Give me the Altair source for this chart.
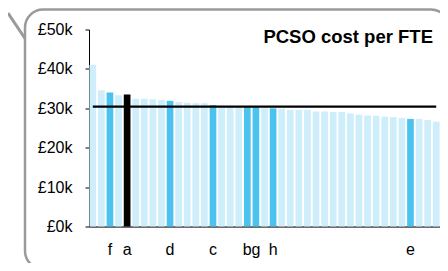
import altair as alt
import pandas as pd

labels = ["", "", "f", "", "a", "", "", "", "", "d",
          "", "", "", "", "c", "", "", "", "b", "g",
          "", "h", "", "", "", "", "", "", "", "",
          "", "", "", "", "", "", "", "e", "", "", ""]
cost_k = [41.0, 34.6, 34.0, 33.3, 33.5, 32.4, 32.4, 32.3, 32.1, 31.9,
          31.6, 31.4, 31.3, 31.3, 30.8, 30.6, 30.5, 30.5, 30.4, 30.3,
          30.0, 30.0, 29.9, 29.6, 29.6, 29.6, 29.2, 29.2, 29.1, 29.1,
          28.7, 28.4, 28.2, 28.1, 27.9, 27.8, 27.5, 27.3, 27.3, 27.0, 26.6]
selected = "a"
average_k = 30.4
y_ticks = [0, 10000, 20000, 30000, 40000, 50000]
title_text = "PCSO cost per FTE"

ids = [lab if lab else f"n{i + 1}" for i, lab in enumerate(labels)]
groups = ["self" if lab == selected else ("peer" if lab else "other") for lab in labels]

df = pd.DataFrame({"id": ids, "cost": [v * 1000 for v in cost_k], "group": groups})
line_df = pd.DataFrame({"id": ids, "cost": [average_k * 1000] * len(ids)})
one = pd.DataFrame({"d": [0]})

FONT = "Liberation Sans"

x_enc = alt.X("id:N", sort=ids,
              scale=alt.Scale(paddingInner=0.22, paddingOuter=0.05),
              axis=alt.Axis(title=None, labelAngle=0, ticks=False, labelOverlap=False,
                            labelExpr="length(datum.label) == 1 ? datum.label : ''",
                            domainColor="#6d6d6d", domainWidth=2, labelFontSize=16,
                            labelPadding=15, labelFont=FONT, labelColor="black"))
y_enc = alt.Y("cost:Q", scale=alt.Scale(domain=[0, 50000]),
              axis=alt.Axis(title=None, values=y_ticks, grid=False, labelOverlap=False,
                            labelExpr="'£' + (datum.value / 1000) + 'k'",
                            tickColor="black", domainColor="black", tickSize=4,
                            labelPadding=13, labelFontSize=16, labelFont=FONT,
                            labelColor="black"))

bars = alt.Chart(df).mark_bar().encode(
    x=x_enc,
    y=y_enc,
    color=alt.Color("group:N",
                    scale=alt.Scale(domain=["other", "peer", "self"],
                                    range=["#cdeefa", "#4cc3ee", "#000000"]),
                    legend=None),
)

avg_line = alt.Chart(line_df).mark_line(color="black", strokeWidth=2.2).encode(
    x=x_enc,
    y=y_enc,
)

frame = alt.Chart(one).mark_rect(fillOpacity=0, stroke="#9a9a9a", strokeWidth=2.5,
                                 cornerRadius=18).encode(
    x=alt.value(-64), x2=alt.value(360), y=alt.value(-20), y2=alt.value(239.5)
)
tail = alt.Chart(one).mark_rule(stroke="#9a9a9a", strokeWidth=3).encode(
    x=alt.value(-81), y=alt.value(-16.5), x2=alt.value(-64), y2=alt.value(9)
)
title = alt.Chart(one).mark_text(text=title_text, fontSize=18.5, fontWeight="bold",
                                 font=FONT, align="right", baseline="alphabetic",
                                 color="black").encode(
    x=alt.value(344), y=alt.value(13)
)

chart = alt.layer(frame, tail, bars, avg_line, title).properties(
    width=351, height=197,
    autosize=alt.AutoSizeParams(type="none"),
    padding={"left": 81, "top": 21.5, "right": 0, "bottom": 36.5},
    background="white",
).configure_view(stroke=None)

chart.save("out.html", embed_options={"renderer": "svg", "actions": False})
